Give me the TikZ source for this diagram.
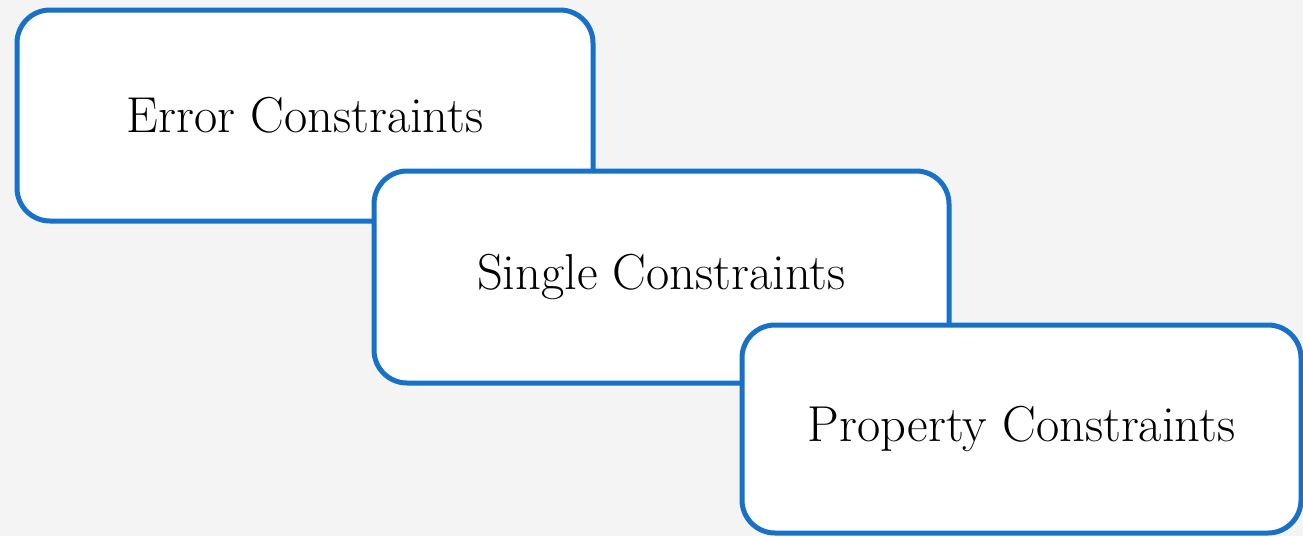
\documentclass[tikz,border=0pt]{standalone}
\usepackage{fontspec}
\definecolor{boxblue}{RGB}{24,113,201}
\definecolor{bggray}{RGB}{244,244,244}
\tikzset{cbox/.style={draw=boxblue, line width=5pt, fill=white, rounded corners=33pt, inner sep=0pt}}
\begin{document}
\begin{tikzpicture}[x=1pt, y=-1pt, font=\fontsize{50.5}{60}\selectfont, line join=round, line cap=round]
					\useasboundingbox (0,0) rectangle (1303,536);
					\fill[bggray] (0,0) rectangle (1303,536);
					\node (err) at (305,115.5) [cbox, minimum width=576pt, minimum height=211pt]{Error Constraints};
					\node (sgl) at (661.5,277) [cbox, minimum width=575pt, minimum height=212pt]{Single Constraints};
					\node (prop) at (1021.5,429) [cbox, minimum width=559pt, minimum height=208pt]{Property Constraints};
			\end{tikzpicture}
\end{document}
